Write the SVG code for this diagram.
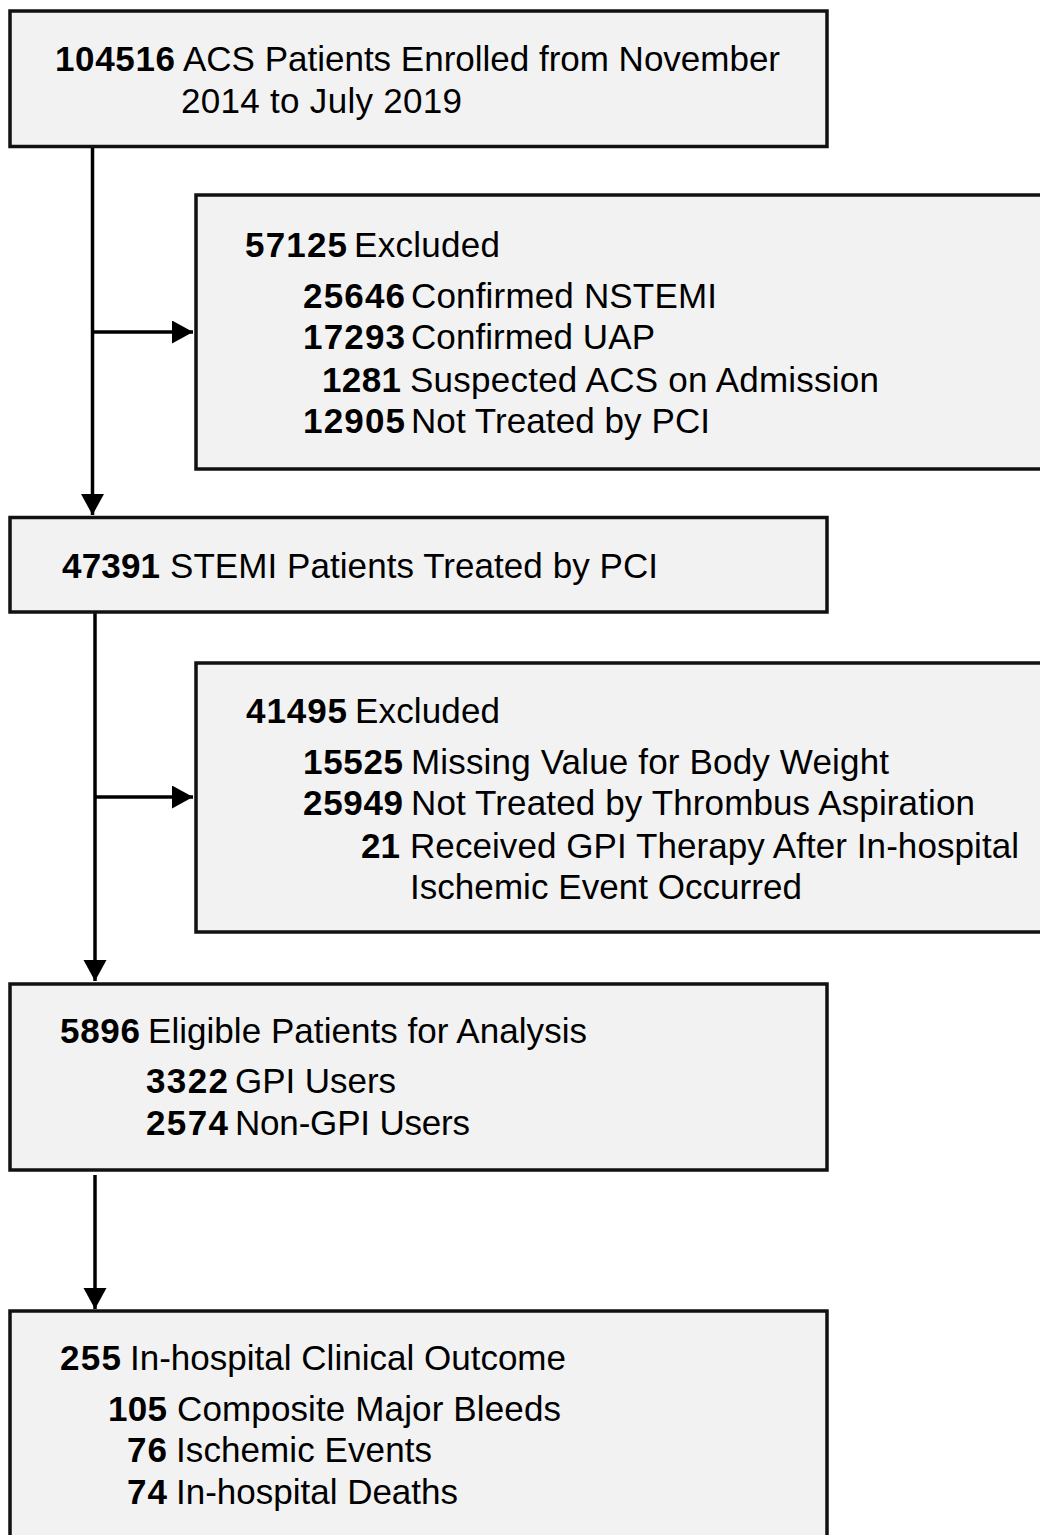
<svg xmlns="http://www.w3.org/2000/svg" width="1040" height="1535" viewBox="0 0 1040 1535">
  <style>
    .box { fill: #f2f2f2; stroke: #111; stroke-width: 3.5; }
    .conn { fill: none; stroke: #000; stroke-width: 3.5; }
    text { font-family: "Liberation Sans", Arial, sans-serif; font-size: 35px; fill: #000; }
    .n { font-weight: bold; }
  </style>
  <defs>
    <marker id="arr" markerUnits="userSpaceOnUse" markerWidth="22" markerHeight="24" refX="21" refY="11.5" orient="auto">
      <path d="M0,0 L21,11.5 L0,23 z" fill="#000"/>
    </marker>
  </defs>
  <rect width="1040" height="1535" fill="#ffffff"/>

  <g id="connectors">
    <path class="conn" d="M92.5,147 V515" marker-end="url(#arr)"/>
    <path class="conn" d="M92.5,332 H193" marker-end="url(#arr)"/>
    <path class="conn" d="M95,612 V981" marker-end="url(#arr)"/>
    <path class="conn" d="M95,797 H193" marker-end="url(#arr)"/>
    <path class="conn" d="M95,1175 V1309" marker-end="url(#arr)"/>
  </g>

  <g id="node-enrolled">
    <rect class="box" x="10" y="11" width="817" height="135.5"/>
    <text class="n" x="55" y="71" textLength="120">104516</text>
    <text x="183" y="71" textLength="597">ACS Patients Enrolled from November</text>
    <text x="181" y="113" textLength="281">2014 to July 2019</text>
  </g>

  <g id="node-excluded1">
    <rect class="box" x="196" y="195" width="850" height="274"/>
    <text class="n" x="245" y="257" textLength="102">57125</text>
    <text x="354" y="257" textLength="146">Excluded</text>
    <text class="n" x="303" y="308" textLength="102">25646</text>
    <text x="411" y="308" textLength="306">Confirmed NSTEMI</text>
    <text class="n" x="303" y="349" textLength="102">17293</text>
    <text x="411" y="349" textLength="244">Confirmed UAP</text>
    <text class="n" x="322" y="392" textLength="79">1281</text>
    <text x="410" y="392" textLength="469">Suspected ACS on Admission</text>
    <text class="n" x="303" y="433" textLength="102">12905</text>
    <text x="411" y="433" textLength="299">Not Treated by PCI</text>
  </g>

  <g id="node-stemi">
    <rect class="box" x="10" y="517.5" width="817" height="94.5"/>
    <text class="n" x="62" y="578" textLength="98">47391</text>
    <text x="170" y="578" textLength="488">STEMI Patients Treated by PCI</text>
  </g>

  <g id="node-excluded2">
    <rect class="box" x="196" y="663" width="850" height="269"/>
    <text class="n" x="246" y="723" textLength="101">41495</text>
    <text x="355" y="723" textLength="145">Excluded</text>
    <text class="n" x="303" y="774" textLength="100">15525</text>
    <text x="411" y="774" textLength="478">Missing Value for Body Weight</text>
    <text class="n" x="303" y="815" textLength="100">25949</text>
    <text x="411" y="815" textLength="564">Not Treated by Thrombus Aspiration</text>
    <text class="n" x="361" y="858" textLength="39">21</text>
    <text x="410" y="858" textLength="609">Received GPI Therapy After In-hospital</text>
    <text x="410" y="899" textLength="392">Ischemic Event Occurred</text>
  </g>

  <g id="node-eligible">
    <rect class="box" x="10" y="984" width="817" height="186"/>
    <text class="n" x="60" y="1043" textLength="80">5896</text>
    <text x="148" y="1043" textLength="439">Eligible Patients for Analysis</text>
    <text class="n" x="146" y="1093" textLength="82">3322</text>
    <text x="235" y="1093" textLength="161">GPI Users</text>
    <text class="n" x="146" y="1135" textLength="82">2574</text>
    <text x="235" y="1135" textLength="235">Non-GPI Users</text>
  </g>

  <g id="node-outcome">
    <rect class="box" x="10" y="1311" width="817" height="240"/>
    <text class="n" x="60" y="1370" textLength="61">255</text>
    <text x="130" y="1370" textLength="436">In-hospital Clinical Outcome</text>
    <text class="n" x="108" y="1421" textLength="59">105</text>
    <text x="177" y="1421" textLength="384">Composite Major Bleeds</text>
    <text class="n" x="127" y="1462" textLength="40">76</text>
    <text x="176" y="1462" textLength="256">Ischemic Events</text>
    <text class="n" x="127" y="1504" textLength="40">74</text>
    <text x="176" y="1504" textLength="282">In-hospital Deaths</text>
  </g>
</svg>
